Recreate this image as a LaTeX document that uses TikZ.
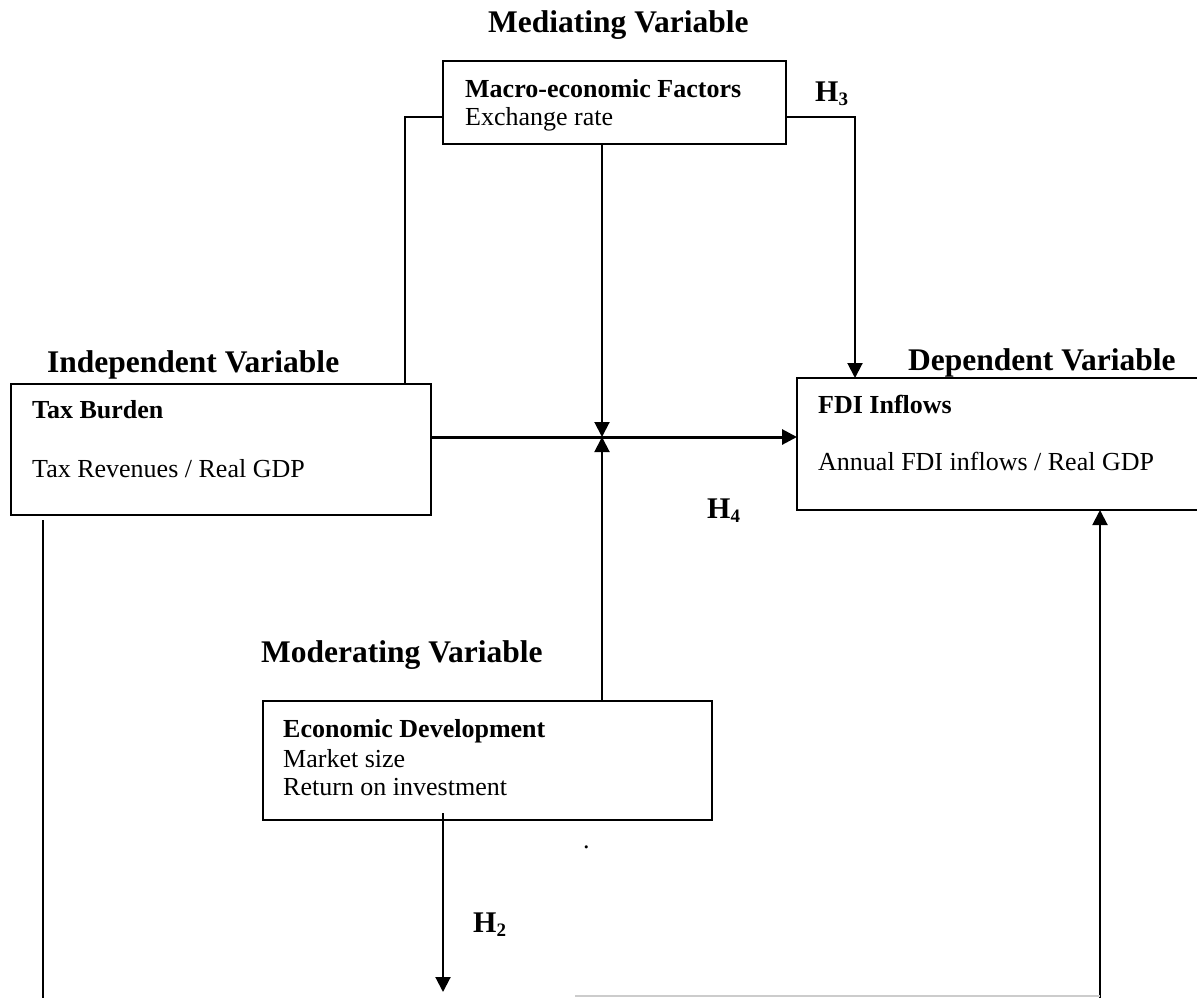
\documentclass[tikz,border=0pt]{standalone}
\usepackage{fontspec}
\setmainfont{Liberation Serif}
\usetikzlibrary{arrows.meta,calc}
\begin{document}
\begin{tikzpicture}[x=1pt,y=-1pt,
  box/.style={draw, line width=2pt, rectangle, inner sep=0pt, outer sep=0pt, anchor=north west},
  head/.style={font=\fontsize{31.5}{38}\selectfont\bfseries, inner sep=0pt, anchor=base west},
  bodyb/.style={font=\fontsize{26}{31}\selectfont\bfseries, inner sep=0pt, anchor=base west},
  body/.style={font=\fontsize{26}{31}\selectfont, inner sep=0pt, anchor=base west},
  hyp/.style={font=\fontsize{30}{34}\selectfont\bfseries, inner sep=0pt, anchor=base west},
  conn/.style={line width=2pt},
  arr/.style={line width=2pt, -{Triangle[length=15pt,width=15pt]}},
  thickarr/.style={line width=3pt, -{Triangle[length=15pt,width=15pt]}},
]
\clip (0,0) rectangle (1197,997);
\fill[white] (0,0) rectangle (1197,997);

% headings
\node[head] (medh) at (488,32) {Mediating Variable};
\node[head] (indh) at (47,372) {Independent Variable};
\node[head] (deph) at (908,370) {Dependent Variable};
\node[head] (modh) at (261,662) {Moderating Variable};

% boxes
\node[box, minimum width=343pt, minimum height=83pt] (macro) at (443,61) {};
\node[box, minimum width=420pt, minimum height=131pt] (tax) at (11,384) {};
\node[box, minimum width=430pt, minimum height=132pt] (fdi) at (797,378) {};
\node[box, minimum width=449pt, minimum height=119pt] (econ) at (263,701) {};

% box texts
\node[bodyb] (macrot) at (465,97) {Macro-economic Factors};
\node[body] (macros) at (465,125) {Exchange rate};
\node[bodyb] (taxt) at (32,418) {Tax Burden};
\node[body] (taxs) at (32,477) {Tax Revenues / Real GDP};
\node[bodyb] (fdit) at (818,413) {FDI Inflows};
\node[body] (fdis) at (818,470) {Annual FDI inflows / Real GDP};
\node[bodyb] (econt) at (283,737) {Economic Development};
\node[body] (econs1) at (283,767) {Market size};
\node[body] (econs2) at (283,795) {Return on investment};

% hypothesis labels
\node[hyp] (h3) at (815,101) {H\raisebox{-0.15em}{\fontsize{19}{19}\selectfont\bfseries 3}};
\node[hyp] (h4) at (707,518) {H\raisebox{-0.15em}{\fontsize{19}{19}\selectfont\bfseries 4}};
\node[hyp] (h2) at (473,932) {H\raisebox{-0.15em}{\fontsize{19}{19}\selectfont\bfseries 2}};
\node[body] (dot) at (583,848) {.};

% coordinates
\coordinate (j) at (602,437);
\coordinate (dstart) at (443,813);
\coordinate (dend) at (443,992);
\coordinate (lstart) at (43,520);
\coordinate (lend) at (43,998);
\coordinate (rstart) at (1100,998);
\coordinate (gstart) at (575,996);

% connectors
\draw[conn] ([yshift=-14.5pt]macro.west) -| ([xshift=-26pt]tax.north east);
\draw[arr] ([yshift=-14.5pt]macro.east) -| ([xshift=58pt]fdi.north west);
\draw[arr] (macro.south -| j) -- (j);
\draw[arr] (econ.north -| j) -- (j);
\draw[thickarr] (tax.east |- j) -- (fdi.west |- j);
\draw[arr] (dstart) -- (dend);
\draw[conn] (lstart) -- (lend);
\draw[arr] (rstart) -- (fdi.south -| rstart);
\draw[line width=1.5pt, black!20] (gstart) -- (rstart |- gstart);
\end{tikzpicture}
\end{document}
